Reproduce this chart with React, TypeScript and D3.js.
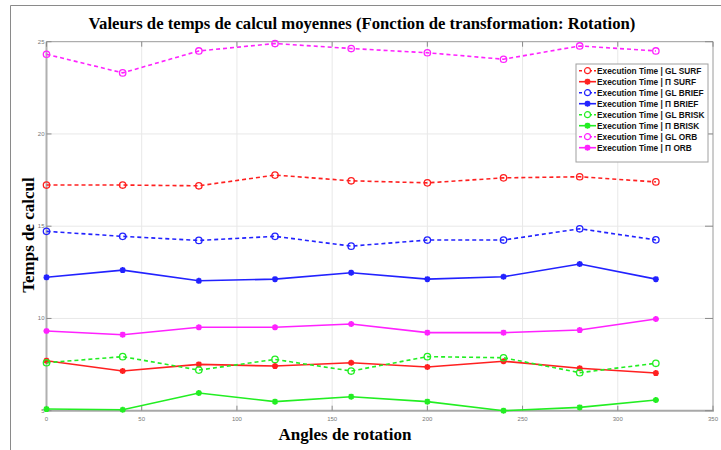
import { useEffect, useRef } from 'react';
import * as d3 from 'd3';

const angles = [0, 40, 80, 120, 160, 200, 240, 280, 320];

const glSurf = [17.23, 17.23, 17.19, 17.77, 17.46, 17.35, 17.62, 17.68, 17.4];
const piSurf = [7.71, 7.15, 7.51, 7.42, 7.6, 7.37, 7.68, 7.3, 7.04];
const glBrief = [14.72, 14.45, 14.23, 14.45, 13.92, 14.25, 14.25, 14.86, 14.26];
const piBrief = [12.23, 12.62, 12.04, 12.13, 12.48, 12.13, 12.26, 12.95, 12.13];
const glBrisk = [7.6, 7.93, 7.2, 7.78, 7.15, 7.93, 7.87, 7.06, 7.57];
const piBrisk = [5.09, 5.05, 5.96, 5.49, 5.76, 5.49, 5.0, 5.18, 5.58];
const glOrb = [24.32, 23.31, 24.5, 24.9, 24.63, 24.4, 24.05, 24.77, 24.5];
const piOrb = [9.32, 9.12, 9.52, 9.52, 9.7, 9.23, 9.23, 9.37, 9.97];

const seriesNames = [
    'Execution Time | GL SURF',
    'Execution Time | \u03A0 SURF',
    'Execution Time | GL BRIEF',
    'Execution Time | \u03A0 BRIEF',
    'Execution Time | GL BRISK',
    'Execution Time | \u03A0 BRISK',
    'Execution Time | GL ORB',
    'Execution Time | \u03A0 ORB',
];
const seriesValues = [glSurf, piSurf, glBrief, piBrief, glBrisk, piBrisk, glOrb, piOrb];
const seriesColors = ['#ff2020', '#ff2020', '#2222ff', '#2222ff', '#22ee22', '#22ee22', '#ff22ff', '#ff22ff'];

const xTicks = [0, 50, 100, 150, 200, 250, 300, 350];
const yTicks = [5, 10, 15, 20, 25];

const title = 'Valeurs de temps de calcul moyennes (Fonction de transformation: Rotation)';
const xLabel = 'Angles de rotation';
const yLabel = 'Temps de calcul';

const asterisk = 'M-3,0H3M0,-3V3M-2.2,-2.2L2.2,2.2M-2.2,2.2L2.2,-2.2';

export default function App() {
    const svgRef = useRef<SVGSVGElement>(null);

    useEffect(() => {
        if (!svgRef.current) return;
        document.body.style.margin = '0';

        const W = 721, H = 450;
        const plot = { left: 46.5, right: 713, top: 41.7, bottom: 410.7 };

        const x = d3.scaleLinear().domain([0, 350]).range([plot.left, plot.right]);
        const y = d3.scaleLinear().domain([5, 25]).range([plot.bottom, plot.top]);

        const svg = d3.select(svgRef.current);
        svg.selectAll('*').remove();
        svg.attr('width', W).attr('height', H);

        svg.append('rect').attr('width', W).attr('height', H).attr('fill', '#fff');

        // outer frame
        svg.append('path')
            .attr('d', `M10.5,${H}V5.5H${W}`)
            .attr('fill', 'none').attr('stroke', '#8a8a8a').attr('stroke-width', 1);

        // grid
        const grid = svg.append('g').attr('stroke', '#e8e8e8').attr('stroke-width', 1);
        xTicks.slice(1, -1).forEach(t => {
            grid.append('line').attr('x1', x(t)).attr('x2', x(t)).attr('y1', plot.top).attr('y2', plot.bottom);
        });
        yTicks.slice(1, -1).forEach(t => {
            grid.append('line').attr('y1', y(t)).attr('y2', y(t)).attr('x1', plot.left).attr('x2', plot.right);
        });

        // axes box
        svg.append('line').attr('x1', plot.left).attr('x2', plot.right).attr('y1', plot.top).attr('y2', plot.top)
            .attr('stroke', '#9a9a9a').attr('stroke-width', 1);
        svg.append('line').attr('x1', plot.right).attr('x2', plot.right).attr('y1', plot.top).attr('y2', plot.bottom)
            .attr('stroke', '#9a9a9a').attr('stroke-width', 1);
        svg.append('line').attr('x1', plot.left).attr('x2', plot.right + 1).attr('y1', plot.bottom).attr('y2', plot.bottom)
            .attr('stroke', '#a8a8a8').attr('stroke-width', 2);
        svg.append('line').attr('x1', plot.left).attr('x2', plot.left).attr('y1', plot.top).attr('y2', plot.bottom + 1)
            .attr('stroke', '#b0b0b0').attr('stroke-width', 2);

        // ticks
        const tk = svg.append('g').attr('stroke', '#8a8a8a').attr('stroke-width', 1);
        xTicks.forEach(t => {
            tk.append('line').attr('x1', x(t)).attr('x2', x(t)).attr('y1', plot.bottom).attr('y2', plot.bottom - 5);
            tk.append('line').attr('x1', x(t)).attr('x2', x(t)).attr('y1', plot.top).attr('y2', plot.top + 5);
        });
        yTicks.forEach(t => {
            tk.append('line').attr('x1', plot.left).attr('x2', plot.left + 5).attr('y1', y(t)).attr('y2', y(t));
            tk.append('line').attr('x1', plot.right).attr('x2', plot.right - 8).attr('y1', y(t)).attr('y2', y(t));
        });

        const tickFont = 'Arial, "Liberation Sans", sans-serif';
        svg.append('g').selectAll('text').data(xTicks).join('text')
            .attr('x', d => x(d)).attr('y', plot.bottom + 10)
            .attr('text-anchor', 'middle').attr('font-family', tickFont)
            .attr('font-size', 6).attr('fill', '#777')
            .text(d => String(d));
        svg.append('g').selectAll('text').data(yTicks).join('text')
            .attr('x', plot.left - 2).attr('y', d => y(d) + 2)
            .attr('text-anchor', 'end').attr('font-family', tickFont)
            .attr('font-size', 6).attr('fill', '#777')
            .text(d => String(d));

        // series
        const line = d3.line<number>().x((_, i) => x(angles[i])).y(d => y(d));
        seriesValues.forEach((vals, si) => {
            const dashed = si % 2 === 0;
            const color = seriesColors[si];
            const g = svg.append('g');
            g.append('path')
                .attr('d', line(vals))
                .attr('fill', 'none').attr('stroke', color).attr('stroke-width', 1.6)
                .attr('stroke-dasharray', dashed ? '4,3' : null);
            const pts = g.selectAll('g.pt').data(vals).join('g')
                .attr('class', 'pt')
                .attr('transform', (d, i) => `translate(${x(angles[i])},${y(d)})`);
            if (dashed) {
                pts.append('circle').attr('r', 3.2)
                    .attr('fill', 'none').attr('stroke', color).attr('stroke-width', 1.3);
            } else {
                pts.append('path').attr('d', asterisk)
                    .attr('stroke', color).attr('stroke-width', 1.8).attr('fill', 'none');
            }
        });

        // legend
        const leg = svg.append('g').attr('transform', 'translate(576,64)');
        leg.append('rect').attr('width', 132).attr('height', 98)
            .attr('fill', '#fff').attr('stroke', '#a0a0a0').attr('stroke-width', 1);
        seriesNames.forEach((name, si) => {
            const dashed = si % 2 === 0;
            const color = seriesColors[si];
            const row = leg.append('g').attr('transform', `translate(0,${6.7 + si * 11})`);
            row.append('line').attr('x1', 3).attr('x2', 20).attr('y1', 0).attr('y2', 0)
                .attr('stroke', color).attr('stroke-width', 1.6)
                .attr('stroke-dasharray', dashed ? '3,2' : null);
            if (dashed) {
                row.append('circle').attr('cx', 11.5).attr('r', 3)
                    .attr('fill', '#fff').attr('stroke', color).attr('stroke-width', 1.2);
            } else {
                row.append('path').attr('d', asterisk).attr('transform', 'translate(11.5,0)')
                    .attr('stroke', color).attr('stroke-width', 1.8).attr('fill', 'none');
            }
            row.append('text').attr('x', 21).attr('y', 3)
                .attr('font-family', tickFont).attr('font-weight', 'bold')
                .attr('font-size', 8.3).attr('fill', '#111')
                .text(name);
        });

        // titles
        const serif = '"Times New Roman", "Liberation Serif", serif';
        svg.append('text').attr('x', 362).attr('y', 29)
            .attr('text-anchor', 'middle').attr('font-family', serif).attr('font-weight', 'bold')
            .attr('font-size', 16.7).attr('fill', '#000').text(title);
        svg.append('text').attr('x', 345).attr('y', 440)
            .attr('text-anchor', 'middle').attr('font-family', serif).attr('font-weight', 'bold')
            .attr('font-size', 17).attr('fill', '#000').text(xLabel);
        svg.append('text')
            .attr('transform', 'translate(34,235) rotate(-90)')
            .attr('text-anchor', 'middle').attr('font-family', serif).attr('font-weight', 'bold')
            .attr('font-size', 17).attr('fill', '#000').text(yLabel);
    }, []);

    return (
        <div>
            <svg ref={svgRef} style={{ display: 'block' }} />
        </div>
    );
}
